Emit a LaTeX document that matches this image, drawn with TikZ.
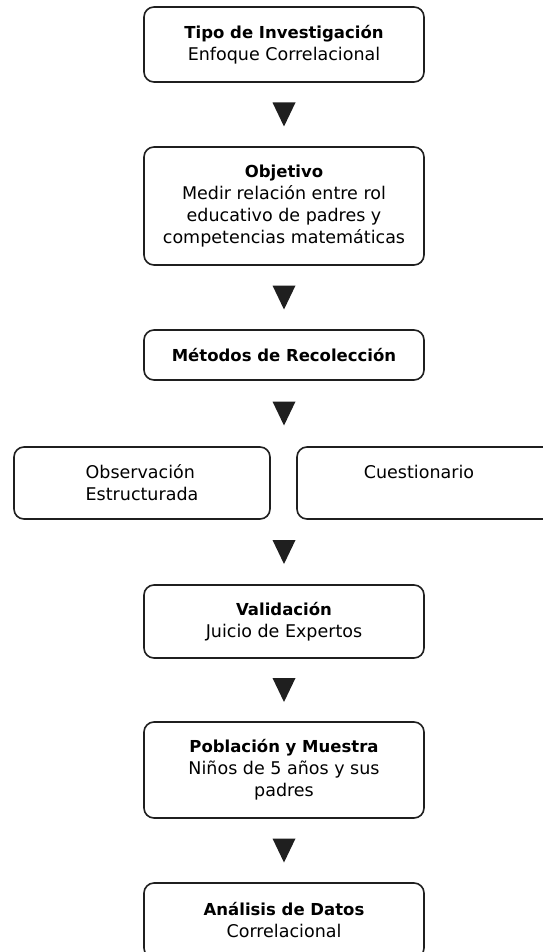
\documentclass[tikz,border=0pt]{standalone}
\usepackage{fontspec}
\setmainfont{DejaVu Sans}
\usetikzlibrary{calc}
\newcommand\hdtxt[1]{{\fontsize{16.5}{22}\selectfont\bfseries #1}}
\begin{document}
\begin{tikzpicture}[x=1pt,y=-1pt,
  box/.style={draw=black!88, line width=1.6pt, rounded corners=10pt, align=center,
    inner sep=0pt, fill=white, text=black, font=\fontsize{17.5}{22}\selectfont},
  txt/.style={inner sep=0pt, text=black, font=\fontsize{17.5}{22}\selectfont},
  tri/.style={fill=black!88}]
\useasboundingbox[fill=white] (0,0) rectangle (542,952);
\node[box, minimum width=280pt, minimum height=75pt] (b1) at (284,44.5)
  {\hdtxt{Tipo de Investigación}\\Enfoque Correlacional};
\node[box, minimum width=280pt, minimum height=118pt] (b2) at (284,206)
  {\hdtxt{Objetivo}\\Medir relación entre rol\\educativo de padres y\\competencias matemáticas};
\node[box, minimum width=280pt, minimum height=50pt] (b3) at (284,355)
  {\hdtxt{Métodos de Recolección}};
\node[box, align=left, minimum width=256pt, minimum height=72pt] (l) at (142,483)
  {Observación\\Estructurada};
\node[box, minimum width=300pt, minimum height=72pt] (r) at (447,483) {};
\node[txt, anchor=base] (rt) at (419,478) {Cuestionario};
\node[box, minimum width=280pt, minimum height=73pt] (b4) at (284,621.5)
  {\hdtxt{Validación}\\Juicio de Expertos};
\node[box, minimum width=280pt, minimum height=96pt] (b5) at (284,770)
  {\hdtxt{Población y Muestra}\\Niños de 5 años y sus\\padres};
\node[box, minimum width=280pt, minimum height=75pt] (b6) at (284,920.5)
  {\hdtxt{Análisis de Datos}\\Correlacional};
\path (b1.south) -- (b2.north) coordinate[pos=0.5] (m1);
\path (b2.south) -- (b3.north) coordinate[pos=0.5] (m2);
\path (b3.south) -- (b3.south |- l.north) coordinate[pos=0.5] (m3);
\path (b4.north |- l.south) -- (b4.north) coordinate[pos=0.5] (m4);
\path (b4.south) -- (b5.north) coordinate[pos=0.5] (m5);
\path (b5.south) -- (b6.north) coordinate[pos=0.5] (m6);
\foreach \m in {m1,m2,m3,m4,m5,m6}
  \fill[tri] ($(\m)+(-11.5,-12)$) -- ($(\m)+(11.5,-12)$) -- ($(\m)+(0,12)$) -- cycle;
\end{tikzpicture}
\end{document}
